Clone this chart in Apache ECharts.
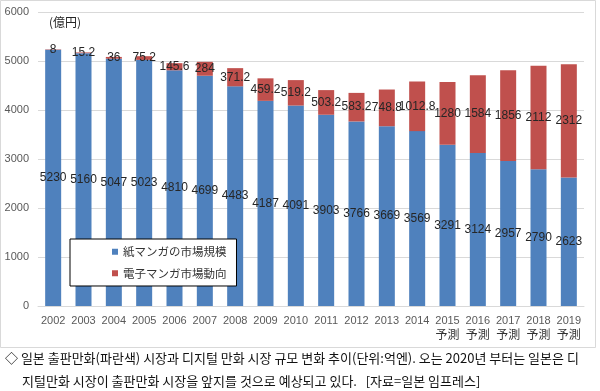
<!DOCTYPE html>
<html><head><meta charset="utf-8">
<script src="https://cdn.jsdelivr.net/npm/echarts@6/dist/echarts.min.js"></script>
<style>html,body{margin:0;padding:0;background:#fff;}#c{width:600px;height:391px;}</style>
</head><body><div id="c"></div>
<script>
const years = ['2002','2003','2004','2005','2006','2007','2008','2009','2010','2011','2012','2013','2014','2015','2016','2017','2018','2019'];
const forecastYears = ['2015','2016','2017','2018','2019'];
const paperValues = [5230,5160,5047,5023,4810,4699,4483,4187,4091,3903,3766,3669,3569,3291,3124,2957,2790,2623];
const digitalValues = [8,15.2,36,75.2,145.6,284,371.2,459.2,519.2,503.2,583.2,748.8,1012.8,1280,1584,1856,2112,2312];
const seriesNames = ['紙マンガの市場規模','電子マンガ市場動向'];
const unitLabel = '(億円)';
const caption1 = '◇ 일본 출판만화(파란색) 시장과 디지털 만화 시장 규모 변화 추이(단위:억엔). 오는 2020년 부터는 일본은 디';
const caption2 = '지털만화 시장이 출판만화 시장을 앞지를 것으로 예상되고 있다.   [자료=일본 임프레스]';

const chart = echarts.init(document.getElementById('c'), null, {renderer:'canvas'});
const labelStyle = {show:true, position:'inside', color:'#262626', fontSize:12, fontFamily:'Liberation Sans, Arial', formatter: p => String(p.value)};
chart.setOption({
  animation:false,
  backgroundColor:'#fff',
  grid:{left:38,right:16,top:12,bottom:85,containLabel:false},
  legend:{
    orient:'vertical', left:70, top:239, width:186, height:46,
    padding:[7,10,7,42], itemGap:10,
    backgroundColor:'#fff', borderColor:'#000', borderWidth:1,
    itemWidth:6, itemHeight:6, icon:'rect',
    textStyle:{fontSize:11.5, color:'#333', fontFamily:'Noto Sans CJK JP'},
    data:seriesNames
  },
  xAxis:{
    type:'category', data:years,
    axisLine:{lineStyle:{color:'#d9d9d9'}}, axisTick:{show:false},
    axisLabel:{interval:0, margin:9, color:'#595959', fontSize:11, fontFamily:'Liberation Sans, Arial',
      formatter: v => forecastYears.includes(v) ? v + '\n{f|予測}' : v,
      rich:{f:{fontSize:12, color:'#333', fontFamily:'Noto Sans CJK JP', lineHeight:17}}}
  },
  yAxis:{
    type:'value', min:0, max:6000, interval:1000,
    axisLine:{show:false}, axisTick:{show:false},
    axisLabel:{color:'#595959', fontSize:11, margin:9, fontFamily:'Liberation Sans, Arial', formatter: v => String(v)},
    splitLine:{lineStyle:{color:'#d9d9d9'}}
  },
  series:[
    {name:seriesNames[0], type:'bar', stack:'t', barWidth:16, data:paperValues, itemStyle:{color:'#4f81bd'}, label:labelStyle},
    {name:seriesNames[1], type:'bar', stack:'t', barWidth:16, data:digitalValues, itemStyle:{color:'#c0504d'}, label:labelStyle}
  ],
  graphic:[
    {type:'rect', shape:{x:0.5,y:0.5,width:595,height:347}, style:{fill:'none', stroke:'#d9d9d9', lineWidth:1}, z:-1},
    {type:'text', left:49, top:16, style:{text:unitLabel, fontSize:12, fill:'#262626', fontFamily:'Noto Sans CJK JP'}},
    {type:'text', left:5, top:352, style:{text:caption1, fontSize:13, fill:'#111', fontFamily:'Noto Sans CJK KR'}},
    {type:'text', left:22, top:375, style:{text:caption2, fontSize:13, fill:'#111', fontFamily:'Noto Sans CJK KR'}}
  ]
});
</script></body></html>
